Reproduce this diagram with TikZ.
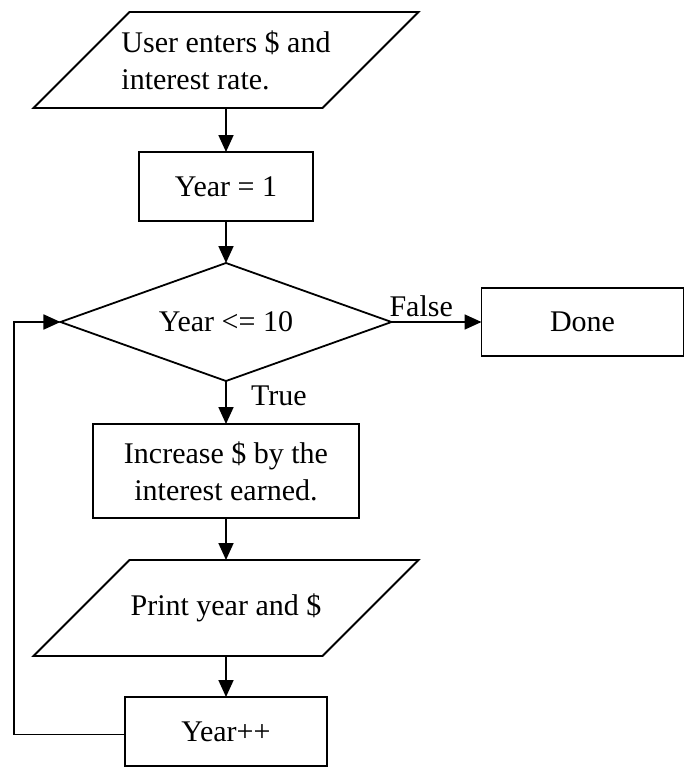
\documentclass[tikz,border=0pt]{standalone}
\usepackage{fontspec}
\setmainfont{Liberation Serif}
\usepackage{tikz}
\usetikzlibrary{shapes,arrows.meta,positioning}
\tikzstyle{block} = [rectangle, draw, text centered, minimum width=202pt, minimum height=69pt]
\tikzstyle{io} = [rectangle, minimum width=289pt, minimum height=96pt, inner sep=0pt,
    append after command={\pgfextra{\draw ([xshift=-48pt]\tikzlastnode.south west)
      -- ([xshift=-48pt]\tikzlastnode.south east) -- ([xshift=48pt]\tikzlastnode.north east)
      -- ([xshift=48pt]\tikzlastnode.north west) -- cycle;}}]
\tikzstyle{decision} = [diamond, draw, aspect=2.8, minimum width=331pt, minimum height=118pt, inner sep=0pt]
\tikzstyle{line} = [draw, -{Triangle[length=17pt,width=15pt]}]
\tikzstyle{lbl} = [inner sep=5pt]

\begin{document}
\begin{tikzpicture}[node distance=43pt, line width=1.8pt, outer sep=0pt, font=\fontsize{30pt}{37pt}\selectfont]
        \useasboundingbox (-226pt,60pt) rectangle (457pt,-708pt);
        \node [io, align=left] (start) {User enters \$ and\\interest rate.};
        \node [block, below=44pt of start, minimum width=174pt] (init) {Year = 1};
        \node [decision, below=42pt of init] (test) {Year <= 10};
        \node [block, right=90pt of test, minimum height=68pt] (done) {Done};
        \node [block, below=of test, minimum width=266pt, minimum height=94pt, align=center] (earn) {Increase \$ by the\\interest earned.};
        \node [io, below=42pt of earn] (print) {Print year and \$};
        \node [block, below=41pt of print] (incr) {Year++};
        
        \path [line] (start) -- (init);
        \path [line] (init) -- (test);
        \path [line] (test) -- node [lbl, above, pos=0.33] {False} (done);
        \path [line] (test) -- node [lbl, right=25pt, inner sep=0pt, pos=0.35] {True} (earn);
        \path [line] (earn) -- (print);
        \path [line] (print) -- (incr);
        \path [line] ([yshift=-3pt]incr.west) -- ++(-111pt,0) |- (test.west);
    \end{tikzpicture}
\end{document}
